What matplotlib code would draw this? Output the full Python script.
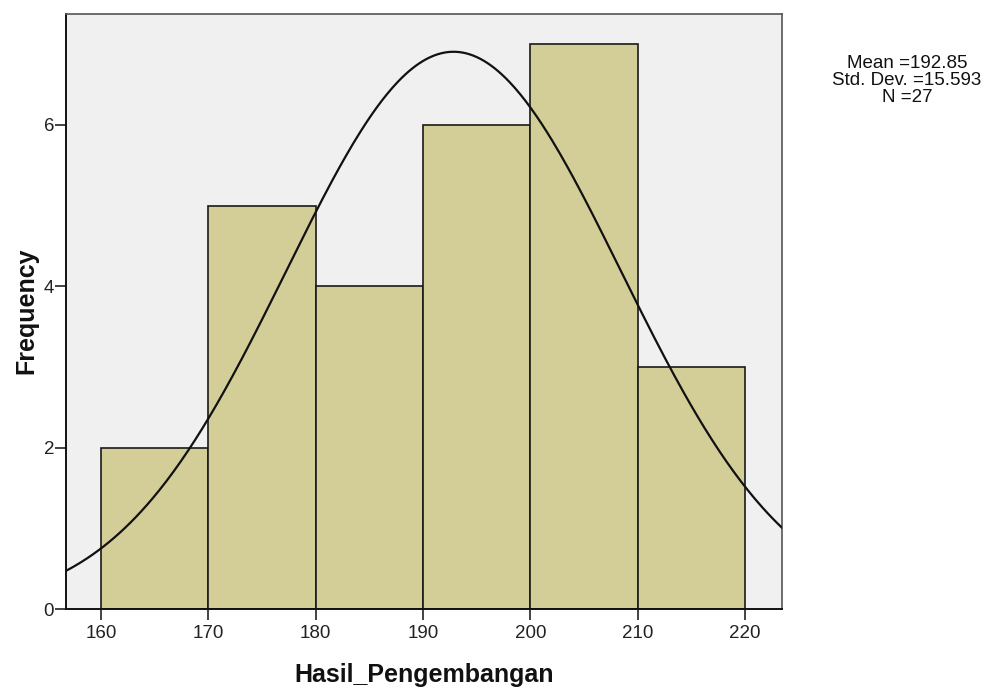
import numpy as np
import matplotlib
matplotlib.use("Agg")
import matplotlib.pyplot as plt

bin_edges = [160, 170, 180, 190, 200, 210, 220]
counts = [2, 5, 4, 6, 7, 3]
mean_val = 192.85
std_val = 15.593
n_val = 27
x_ticks = [160, 170, 180, 190, 200, 210, 220]
y_ticks = [0, 2, 4, 6]

plt.rcParams['font.family'] = ['Liberation Sans', 'DejaVu Sans']

W, H = 985, 691
fig = plt.figure(figsize=(W/100, H/100), dpi=100)
ax = fig.add_axes([66/W, (H-609)/H, (782-66)/W, (609-14)/H])
ax.set_facecolor('#f0f0f0')

lefts = bin_edges[:-1]
widths = np.diff(bin_edges)
ax.bar(lefts, counts, width=widths, align='edge', color='#d3ce98',
       edgecolor='#1a1a1a', linewidth=1.2, zorder=2)

xlim = (156.74, 223.45)
xs = np.linspace(xlim[0], xlim[1], 400)
bw = widths[0]
ys = n_val * bw / (std_val * np.sqrt(2*np.pi)) * np.exp(-0.5*((xs-mean_val)/std_val)**2)
ax.plot(xs, ys, color='#111111', linewidth=1.6, zorder=3)

ax.set_xlim(*xlim)
ax.set_ylim(0, 7.376)
ax.set_xticks(x_ticks)
ax.set_yticks(y_ticks)
ax.tick_params(direction='out', length=7.8, width=1.2, labelsize=13.5, colors='#222222')
ax.tick_params(axis='x', pad=3.5)
ax.tick_params(axis='y', pad=0.8)
for s in ['top', 'right']:
    ax.spines[s].set_color('#555555')
    ax.spines[s].set_linewidth(1.2)
for s in ['left', 'bottom']:
    ax.spines[s].set_color('#111111')
    ax.spines[s].set_linewidth(1.4)

fig.text(424/W, 1 - 682/H, 'Hasil_Pengembangan', fontsize=18, fontweight='bold',
         ha='center', va='baseline', color='#111111')
fig.text(33/W, 1 - 311/H, 'Frequency', fontsize=18, fontweight='bold',
         rotation=90, rotation_mode='anchor', ha='center', va='baseline', color='#111111')

stats_lines = [f'Mean ={mean_val}', f'Std. Dev. ={std_val}', f'N ={n_val}']
for line, yb in zip(stats_lines, [68, 85, 102]):
    fig.text(907/W, 1 - yb/H, line, ha='center', va='baseline',
             fontsize=13.5, color='#111111')

fig.savefig('out.png', dpi=100)
